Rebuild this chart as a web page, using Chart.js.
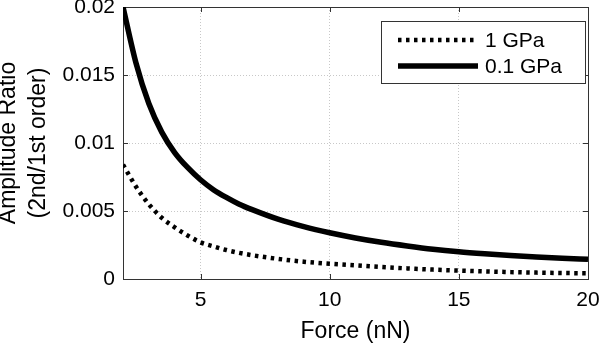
<!DOCTYPE html>
<html>
<head>
<meta charset="utf-8">
<script src="https://cdn.jsdelivr.net/npm/chart.js@4/dist/chart.umd.min.js"></script>
<style>
	body { margin: 0; background: #fff; }
</style>
</head>
<body>
<canvas id="amp-chart" width="600" height="345"></canvas>
<script>
// values
const forces = [2, 2.5, 3, 3.5, 4, 4.5, 5, 5.5, 6, 6.5, 7, 8, 9, 10, 11, 12, 13, 14, 15, 16, 17, 18, 19, 20];
const ratio1GPa = [0.0084, 0.0068, 0.0055, 0.0045, 0.0038, 0.0032, 0.0027, 0.0024, 0.00213, 0.00192, 0.00175, 0.00148,
	0.00127, 0.00112, 0.0010, 0.00088, 0.00078, 0.00069, 0.00062, 0.00056, 0.00051, 0.00047, 0.00044, 0.00042];
const ratio01GPa = [0.0200, 0.0159, 0.0129, 0.0108, 0.0093, 0.0082, 0.0073, 0.00657, 0.0060, 0.0055, 0.0051, 0.0044,
	0.00385, 0.0034, 0.00302, 0.0027, 0.00243, 0.00219, 0.0020, 0.00185, 0.00172, 0.00162, 0.00153, 0.00145];
const seriesNames = ['1 GPa', '0.1 GPa'];
const xTicks = [5, 10, 15, 20];
const yTicks = [0, 0.005, 0.01, 0.015, 0.02];
const yTickLabels = ['0', '0.005', '0.01', '0.015', '0.02'];

const FONT = 'Liberation Sans, Arial, sans-serif';

// axes box + inward tick marks (matlab style)
const framePlugin = {
	id: 'frame',
	beforeDatasetsDraw(chart) {
		const { ctx, chartArea: a, scales: { x, y } } = chart;
		ctx.save();
		ctx.strokeStyle = '#333';
		ctx.lineWidth = 1;
		ctx.beginPath();
		xTicks.forEach(v => {
			const px = Math.round(x.getPixelForValue(v)) + 0.5;
			ctx.moveTo(px, a.bottom); ctx.lineTo(px, a.bottom - 5);
			ctx.moveTo(px, a.top); ctx.lineTo(px, a.top + 5);
		});
		yTicks.forEach(v => {
			const py = Math.round(y.getPixelForValue(v)) + 0.5;
			ctx.moveTo(a.left, py); ctx.lineTo(a.left + 5, py);
			ctx.moveTo(a.right, py); ctx.lineTo(a.right - 5, py);
		});
		ctx.stroke();
		ctx.strokeRect(a.left + 0.5, a.top + 0.5, a.right - a.left, a.bottom - a.top);
		ctx.restore();
	}
};

// legend box in the upper right corner of the axes
const boxLegend = {
	id: 'boxLegend',
	afterDraw(chart) {
		const { ctx, chartArea: a } = chart;
		const bx = a.right - 207, by = a.top + 14, bw = 204, bh = 62;
		ctx.save();
		ctx.fillStyle = '#fff';
		ctx.fillRect(bx, by, bw, bh);
		ctx.strokeStyle = '#333';
		ctx.lineWidth = 1;
		ctx.strokeRect(bx + 0.5, by + 0.5, bw, bh);
		ctx.font = '21px ' + FONT;
		ctx.textBaseline = 'middle';
		ctx.fillStyle = '#000';
		chart.data.datasets.forEach((ds, i) => {
			const ly = by + 19 + i * 26;
			ctx.beginPath();
			ctx.strokeStyle = ds.borderColor;
			ctx.lineWidth = ds.borderWidth;
			ctx.setLineDash(ds.borderDash || []);
			ctx.moveTo(bx + 17, ly);
			ctx.lineTo(bx + 97, ly);
			ctx.stroke();
			ctx.setLineDash([]);
			ctx.fillText(ds.label, bx + 104, ly + 1);
		});
		ctx.restore();
	}
};

function createAmplitudeChart() {
	const ctx = document.getElementById('amp-chart').getContext('2d');
	new Chart(ctx, {
		type: 'line',
		data: {
			datasets: [{
				label: seriesNames[0],
				data: forces.map((f, i) => ({ x: f, y: ratio1GPa[i] })),
				borderColor: '#000',
				borderWidth: 4.5,
				borderDash: [3.5, 4.5],
				borderCapStyle: 'butt',
				pointRadius: 0,
				cubicInterpolationMode: 'monotone',
				fill: false
			}, {
				label: seriesNames[1],
				data: forces.map((f, i) => ({ x: f, y: ratio01GPa[i] })),
				borderColor: '#000',
				borderWidth: 5.5,
				pointRadius: 0,
				cubicInterpolationMode: 'monotone',
				fill: false
			}]
		},
		options: {
			responsive: false,
			animation: false,
			layout: { padding: { left: 0, right: 12, top: 7, bottom: 0 } },
			scales: {
				x: {
					type: 'linear',
					min: 2,
					max: 20,
					afterBuildTicks: s => { s.ticks = xTicks.map(v => ({ value: v })); },
					afterFit: s => { s.height = 66; s.paddingLeft = 0; s.paddingRight = 0; },
					ticks: { font: { family: FONT, size: 21 }, color: '#000', padding: 9, autoSkip: false, maxRotation: 0 },
					grid: { color: '#c8c8c8', drawTicks: false },
					border: { display: false, dash: [1, 2] },
					title: { display: true, text: 'Force (nN)', color: '#000', font: { family: FONT, size: 23 }, padding: 0 }
				},
				y: {
					min: 0,
					max: 0.02,
					afterBuildTicks: s => { s.ticks = yTicks.map(v => ({ value: v })); },
					afterFit: s => { s.width = 123; s.paddingTop = 0; s.paddingBottom = 0; },
					ticks: {
						font: { family: FONT, size: 21 }, color: '#000', padding: 8,
						callback: (v, i) => yTickLabels[i]
					},
					grid: { color: '#c8c8c8', drawTicks: false },
					border: { display: false, dash: [1, 2] },
					title: {
						display: true,
						text: ['Amplitude Ratio', '(2nd/1st order)'],
						color: '#000',
						font: { family: FONT, size: 23, lineHeight: 1.33 },
						padding: { top: -7, bottom: 0 }
					}
				}
			},
			plugins: {
				legend: { display: false },
				tooltip: { enabled: false }
			}
		},
		plugins: [framePlugin, boxLegend]
	});
}

window.onload = () => {
	createAmplitudeChart();
};
</script>
</body>
</html>
